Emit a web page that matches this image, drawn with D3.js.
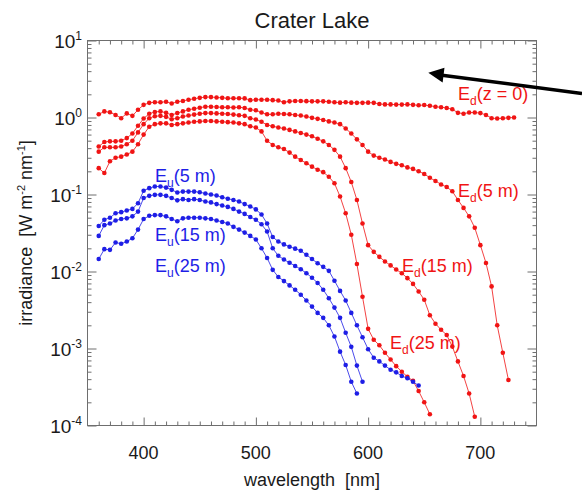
<!DOCTYPE html>
<html>
<head>
<meta charset="utf-8">
<script src="https://cdn.jsdelivr.net/npm/d3@7"></script>
<style>
  html, body { margin: 0; padding: 0; background: #fff; }
  svg { display: block; font-family: "Liberation Sans", Arial, Helvetica, sans-serif; }
</style>
</head>
<body>
<svg id="chart" width="582" height="491"></svg>
<script>
// ---------------- data ----------------
const wavelengths = [
  360,365,370,375,380,385,390,395,400,405,
  410,415,420,425,430,435,440,445,450,455,
  460,465,470,475,480,485,490,495,500,505,
  510,515,520,525,530,535,540,545,550,555,
  560,565,570,575,580,585,590,595,600,605,
  610,615,620,625,630,635,640,645,650,655,
  660,665,670,675,680,685,690,695,700,705,
  710,715,720,725,730
];

const Ed0 = [
  1.10,1.20,1.17,1.08,0.98,1.13,1.05,1.26,1.46,1.55,
  1.58,1.58,1.60,1.52,1.60,1.64,1.70,1.75,1.80,1.84,
  1.84,1.82,1.80,1.78,1.78,1.78,1.77,1.68,1.70,1.70,
  1.70,1.68,1.66,1.58,1.62,1.64,1.64,1.63,1.62,1.62,
  1.62,1.60,1.58,1.56,1.58,1.56,1.55,1.55,1.56,1.55,
  1.50,1.48,1.48,1.47,1.47,1.48,1.46,1.44,1.45,1.42,
  1.38,1.36,1.33,1.28,1.15,1.12,1.16,1.16,1.14,1.08,
  0.98,0.97,0.98,0.99,1.00
];

const Ed5 = [
  0.42,0.48,0.49,0.49,0.50,0.54,0.62,0.78,0.97,1.12,
  1.18,1.20,1.15,1.08,1.14,1.20,1.26,1.30,1.34,1.38,
  1.38,1.37,1.36,1.36,1.35,1.36,1.33,1.26,1.24,1.16,
  1.10,1.10,1.12,1.11,1.10,1.08,1.06,1.03,0.99,0.96,
  0.93,0.89,0.86,0.82,0.72,0.62,0.52,0.44,0.36,0.32,
  0.30,0.285,0.265,0.25,0.24,0.225,0.215,0.20,0.185,0.165,
  0.15,0.135,0.125,0.11,0.085,0.067,0.052,0.037,0.022,0.0129,
  0.0064,0.002,0.00088,0.00039,null
];

const Ed15 = [
  0.36,0.41,0.41,0.41,0.42,0.45,0.50,0.64,0.82,0.98,
  1.04,1.05,1.02,0.95,0.98,1.03,1.06,1.09,1.12,1.14,
  1.14,1.13,1.12,1.11,1.09,1.07,1.05,0.98,0.94,0.88,
  0.80,0.77,0.74,0.72,0.69,0.66,0.63,0.60,0.57,0.53,
  0.49,0.44,0.38,0.31,0.22,0.145,0.085,0.042,0.022,0.018,
  0.0155,0.0135,0.012,0.0106,0.0095,0.0082,0.0069,0.0055,0.0043,0.0027,
  0.0021,0.00175,0.0015,0.00106,0.00068,0.00044,0.00026,0.00013,null,null,
  null,null,null,null,null
];

const Ed25 = [
  0.22,0.19,0.27,0.30,0.31,0.33,0.36,0.45,0.60,0.76,
  0.82,0.84,0.84,0.80,0.82,0.84,0.86,0.88,0.89,0.90,
  0.90,0.89,0.88,0.87,0.86,0.84,0.82,0.77,0.74,0.66,
  0.50,0.44,0.41,0.39,0.35,0.31,0.28,0.255,0.23,0.21,
  0.195,0.17,0.14,0.094,0.057,0.03,0.0125,0.0047,0.0018,0.0013,
  0.0011,0.00088,0.00072,0.00059,0.0005,0.00043,0.00038,0.00028,0.0002,0.00014,
  null,null,null,null,null,null,null,null,null,null,
  null,null,null,null,null
];

const Eu5 = [
  0.039,0.047,0.050,0.057,0.059,0.062,0.065,0.077,0.112,0.121,
  0.127,0.127,0.123,0.115,0.106,0.109,0.109,0.109,0.107,0.103,
  0.100,0.097,0.092,0.088,0.085,0.081,0.075,0.070,0.064,0.055,
  0.042,0.028,0.0245,0.0225,0.021,0.0198,0.0186,0.0165,0.0145,0.0128,
  0.0115,0.0102,0.0076,0.0056,0.0042,0.0029,0.0020,0.0014,0.00098,0.00076,
  0.00068,0.0006,0.00053,0.00049,0.00044,0.00041,0.00037,0.00033,null,null,
  null,null,null,null,null,null,null,null,null,null,
  null,null,null,null,null
];

const Eu15 = [
  0.029,0.040,0.042,0.046,0.048,0.049,0.052,0.060,0.090,0.096,
  0.099,0.099,0.096,0.090,0.084,0.087,0.085,0.087,0.085,0.081,
  0.079,0.075,0.072,0.069,0.065,0.060,0.056,0.051,0.047,0.041,
  0.033,0.020,0.016,0.0143,0.013,0.0118,0.0107,0.0095,0.0083,0.0071,
  0.0058,0.0045,0.0034,0.0025,0.0016,0.00105,0.0006,0.00037,null,null,
  null,null,null,null,null,null,null,null,null,null,
  null,null,null,null,null,null,null,null,null,null,
  null,null,null,null,null
];

const Eu25 = [
  0.0145,0.0195,0.0191,0.0238,0.0229,0.0245,0.027,0.035,0.048,0.053,
  0.054,0.054,0.052,0.048,0.045,0.049,0.050,0.050,0.050,0.049,
  0.048,0.046,0.044,0.042,0.038,0.035,0.032,0.029,0.026,0.020,
  0.015,0.0105,0.0085,0.0075,0.0066,0.0058,0.0050,0.0042,0.0035,0.0029,
  0.0025,0.0020,0.00143,0.00091,0.00061,0.00037,0.00026,null,null,null,
  null,null,null,null,null,null,null,null,null,null,
  null,null,null,null,null,null,null,null,null,null,
  null,null,null,null,null
];

const seriesValues = [Ed0, Ed5, Ed15, Ed25, Eu5, Eu15, Eu25];
const seriesColors = ["#f01414","#f01414","#f01414","#f01414","#1e1ee6","#1e1ee6","#1e1ee6"];

const xTickLabels = [400, 500, 600, 700];
const yTickExponents = [-4, -3, -2, -1, 0, 1];

const titleText = "Crater Lake";
const xLabelText = "wavelength  [nm]";

// labels: [main, subscript, rest, color]
const curveLabels = [
  ["E","d","(z = 0)","#f01414", 458, 100],
  ["E","d","(5 m)","#f01414", 458, 197],
  ["E","d","(15 m)","#f01414", 402, 272],
  ["E","d","(25 m)","#f01414", 390, 349],
  ["E","u","(5 m)","#1e1ee6", 155, 182],
  ["E","u","(15 m)","#1e1ee6", 155, 241],
  ["E","u","(25 m)","#1e1ee6", 155, 272]
];

// ---------------- drawing ----------------
const svg = d3.select("#chart");
const L = 87.5, R = 536.5, T = 40.5, B = 425.5;

const x = d3.scaleLinear().domain([350, 750]).range([L, R]);
const y = d3.scaleLog().domain([1e-4, 10]).range([B, T]);

const axisColor = "#6e6e6e";

// minor ticks
const xMinor = d3.range(360, 750, 10).filter(v => v % 100 !== 0);
const yMinor = [];
yTickExponents.slice(0, -1).forEach(e => { for (let k = 2; k <= 9; k++) yMinor.push(k * Math.pow(10, e)); });
const yMajor = yTickExponents.map(e => Math.pow(10, e));

function styleAxis(g) {
  g.select(".domain").remove();
  g.selectAll("line").attr("stroke", axisColor).attr("stroke-width", 1);
  g.selectAll("text").remove();
}

svg.append("g").attr("transform", `translate(0,${B})`)
  .call(d3.axisBottom(x).tickValues(xTickLabels).tickSize(-8)).call(styleAxis);
svg.append("g").attr("transform", `translate(0,${B})`)
  .call(d3.axisBottom(x).tickValues(xMinor).tickSize(-4)).call(styleAxis);
svg.append("g").attr("transform", `translate(0,${T})`)
  .call(d3.axisTop(x).tickValues(xTickLabels).tickSize(-8)).call(styleAxis);
svg.append("g").attr("transform", `translate(0,${T})`)
  .call(d3.axisTop(x).tickValues(xMinor).tickSize(-4)).call(styleAxis);

svg.append("g").attr("transform", `translate(${L},0)`)
  .call(d3.axisLeft(y).tickValues(yMajor).tickSize(-9)).call(styleAxis);
svg.append("g").attr("transform", `translate(${L},0)`)
  .call(d3.axisLeft(y).tickValues(yMinor).tickSize(-4)).call(styleAxis);
svg.append("g").attr("transform", `translate(${R},0)`)
  .call(d3.axisRight(y).tickValues(yMajor).tickSize(-9)).call(styleAxis);
svg.append("g").attr("transform", `translate(${R},0)`)
  .call(d3.axisRight(y).tickValues(yMinor).tickSize(-4)).call(styleAxis);

svg.append("rect").attr("x", L).attr("y", T).attr("width", R - L).attr("height", B - T)
  .attr("fill", "none").attr("stroke", axisColor).attr("stroke-width", 1);

// x tick labels
svg.append("g").selectAll("text").data(xTickLabels).join("text")
  .attr("x", d => x(d)).attr("y", 459)
  .attr("text-anchor", "middle").attr("font-size", 18).attr("fill", "#1a1a1a")
  .text(d => d);

// y tick labels 10^n
const yl = svg.append("g").selectAll("text").data(yTickExponents).join("text")
  .attr("x", 82).attr("y", d => y(Math.pow(10, d)) + 7)
  .attr("text-anchor", "end").attr("font-size", 19).attr("fill", "#1a1a1a");
yl.append("tspan").text("10");
yl.append("tspan").attr("font-size", 12).attr("dy", -8).text(d => d < 0 ? "-" + (-d) : String(d));

// title
svg.append("text").attr("x", (L + R) / 2).attr("y", 28).attr("text-anchor", "middle")
  .attr("font-size", 22).attr("fill", "#1a1a1a").text(titleText);

// x label
svg.append("text").attr("x", (L + R) / 2).attr("y", 486).attr("text-anchor", "middle")
  .attr("font-size", 18).attr("fill", "#1a1a1a").style("white-space", "pre").text(xLabelText);

// y label
const ylab = svg.append("text")
  .attr("transform", `translate(32,${(T + B) / 2}) rotate(-90)`)
  .attr("text-anchor", "middle").attr("font-size", 18).attr("fill", "#1a1a1a")
  .style("white-space", "pre");
ylab.append("tspan").text("irradiance  [W m");
ylab.append("tspan").attr("font-size", 11).attr("dy", -7).text("-2");
ylab.append("tspan").attr("dy", 7).text(" nm");
ylab.append("tspan").attr("font-size", 11).attr("dy", -7).text("-1");
ylab.append("tspan").attr("dy", 7).text("]");

// curves
const line = d3.line()
  .defined(d => d.v !== null)
  .x(d => x(d.w)).y(d => y(d.v));

seriesValues.forEach((vals, i) => {
  const pts = wavelengths.map((w, j) => ({ w, v: vals[j] }));
  const g = svg.append("g");
  g.append("path").datum(pts).attr("d", line)
    .attr("fill", "none").attr("stroke", seriesColors[i]).attr("stroke-width", 1).attr("stroke-opacity", 0.8);
  g.selectAll("circle").data(pts.filter(d => d.v !== null)).join("circle")
    .attr("cx", d => x(d.w)).attr("cy", d => y(d.v)).attr("r", 2.3)
    .attr("fill", seriesColors[i]);
});

// curve labels
curveLabels.forEach(([m, s, r, c, lx, ly]) => {
  const t = svg.append("text").attr("x", lx).attr("y", ly).attr("font-size", 18).attr("fill", c)
    .style("white-space", "pre");
  t.append("tspan").text(m);
  t.append("tspan").attr("font-size", 12).attr("dy", 5).text(s);
  t.append("tspan").attr("dy", -5).text(r);
});

// arrow annotation
svg.append("line").attr("x1", 582).attr("y1", 93.5).attr("x2", 442).attr("y2", 75.2)
  .attr("stroke", "#000").attr("stroke-width", 3.5);
svg.append("path")
  .attr("d", "M428.3,72.8 L444.5,67.8 L442.6,82.4 Z")
  .attr("fill", "#000");
</script>
</body>
</html>
